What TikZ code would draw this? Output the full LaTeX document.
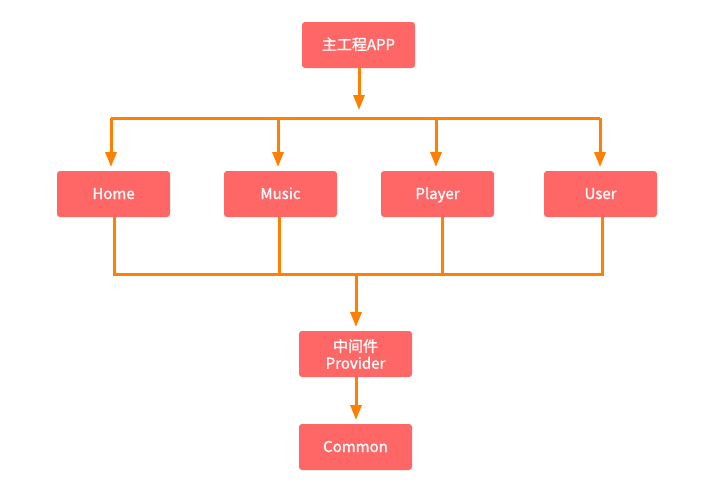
\documentclass[tikz,border=0pt]{standalone}
\usepackage{fontspec}
\setmainfont{Noto Sans CJK SC}[FakeBold=1.2]
\usetikzlibrary{arrows.meta}
\begin{document}
\begin{tikzpicture}[x=1pt,y=-1pt,
  box/.style={draw=none,fill=boxred,rounded corners=3pt,minimum width=113pt,minimum height=46pt,inner sep=0pt,text=white,font=\fontsize{15}{17}\selectfont,align=center},
  one/.style={text height=12pt,text depth=2pt},
  link/.style={draw=linkorange,line width=3pt},
  arr/.style={link,-{Triangle[width=11pt,length=15pt]}},
]
\definecolor{boxred}{HTML}{FF6666}
\definecolor{linkorange}{HTML}{FF8000}
\useasboundingbox[fill=white] (0,0) rectangle (720,493);
\node[box,one] (app) at (358.5,45) {主工程APP};
\node[box,one] (home) at (113.5,194) {Home};
\node[box,one] (music) at (280.5,194) {Music};
\node[box,one] (player) at (437.5,194) {Player};
\node[box,one] (user) at (600.5,194) {User};
\node[box] (prov) at (355.5,354) {中间件\\[0pt]Provider};
\node[box,one] (common) at (355.5,447) {Common};
% top bus
\coordinate (tb1) at (111,118);
\coordinate (tb4) at (600,118);
\draw[link] (tb1) -- (tb4);
\draw[arr] (app.south -| 359,0) -- (359,110);
\draw[arr] (tb1) -- (111,167);
\draw[arr] (278,118) -- (278,167);
\draw[arr] (436,118) -- (436,167);
\draw[arr] (tb4) -- (600,167);
% bottom bus
\draw[link] (home.south -| 114,0) -- (114,274) -- (602,274) -- (user.south -| 602,0);
\draw[link] (music.south -| 279,0) -- (279,274);
\draw[link] (player.south -| 442,0) -- (442,274);
\draw[arr] (356,274) -- (356,327);
\draw[arr] (prov.south -| 356,0) -- (356,420);
\end{tikzpicture}
\end{document}
